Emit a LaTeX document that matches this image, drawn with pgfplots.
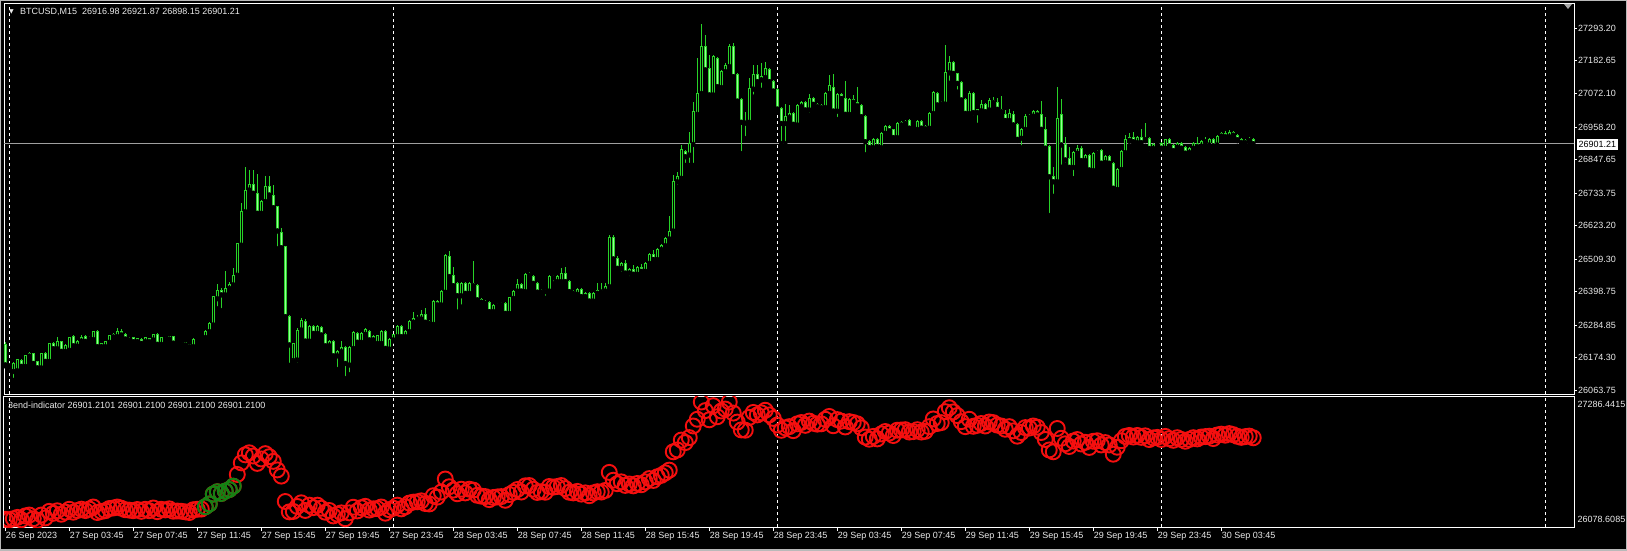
\documentclass[border=0pt]{standalone}
\usepackage{fontspec}
\setmainfont{Liberation Sans}
\newfontfamily\djv{DejaVu Sans}
\usepackage{pgfplots}
\usepackage{pgfplotstable}
\pgfplotsset{compat=1.18}
\definecolor{wick}{RGB}{40,210,40}
\definecolor{bearfill}{RGB}{150,255,150}
\definecolor{lbl}{RGB}{235,235,235}
\definecolor{indred}{RGB}{245,15,15}
\definecolor{indgreen}{RGB}{20,130,20}

\pgfplotstableread{
i o h l c
0 26220 26228 26145 26150
1 26150 26158 26140 26146
2 26128 26161 26099 26155
3 26130 26170 26125 26167
4 26166 26170 26140 26145
5 26145 26185 26140 26181
6 26180 26195 26170 26189
7 26188 26192 26150 26155
8 26160 26165 26135 26140
9 26140 26192 26132 26189
10 26189 26195 26158 26162
11 26162 26226 26158 26223
12 26222 26228 26200 26205
13 26205 26246 26200 26228
14 26228 26232 26192 26196
15 26196 26220 26188 26216
16 26200 26245 26192 26242
17 26245 26250 26212 26215
18 26214 26235 26205 26231
19 26231 26252 26228 26243
20 26245 26250 26228 26230
21 26238 26247 26235 26244
22 26236 26265 26233 26263
23 26265 26268 26210 26212
24 26212 26225 26205 26222
25 26212 26230 26208 26229
26 26227 26252 26225 26249
27 26245 26258 26240 26254
28 26246 26274 26244 26263
29 26263 26272 26250 26252
30 26254 26258 26236 26238
31 26238 26244 26230 26234
32 26242 26246 26226 26229
33 26229 26241 26220 26240
34 26238 26242 26220 26223
35 26229 26245 26226 26242
36 26240 26243 26217 26229
37 26235 26256 26232 26254
38 26254 26257 26218 26220
39 26220 26245 26215 26242
40 26240 26246 26232 26236
41 26238 26248 26234 26246
42 26246 26248 26222 26224
43 26225 26228 26222 26226
44 26226 26229 26222 26224
45 26226 26228 26215 26218
46 26220 26222 26204 26212
47 26212 26240 26210 26238
48 26238 26245 26236 26242
49 26240 26246 26238 26244
50 26243 26268 26240 26265
51 26263 26295 26260 26291
52 26286 26385 26283 26382
53 26375 26424 26342 26404
54 26404 26410 26336 26388
55 26388 26469 26385 26410
56 26410 26430 26405 26424
57 26422 26478 26418 26455
58 26455 26565 26450 26563
59 26557 26699 26550 26670
60 26670 26823 26660 26744
61 26744 26812 26740 26763
62 26763 26812 26728 26733
63 26733 26800 26660 26665
64 26665 26710 26660 26706
65 26705 26793 26700 26755
66 26755 26793 26725 26727
67 26727 26760 26680 26684
68 26687 26690 26546 26605
69 26600 26614 26546 26548
70 26551 26555 26310 26314
71 26314 26318 26150 26218
72 26165 26226 26150 26222
73 26167 26275 26150 26268
74 26269 26310 26265 26302
75 26299 26305 26225 26231
76 26231 26285 26225 26280
77 26280 26286 26250 26257
78 26257 26285 26252 26280
79 26277 26283 26248 26252
80 26254 26258 26210 26215
81 26215 26236 26210 26231
82 26231 26235 26176 26181
83 26181 26200 26136 26197
84 26195 26231 26190 26209
85 26209 26213 26105 26155
86 26150 26215 26118 26209
87 26206 26266 26200 26261
88 26257 26262 26222 26227
89 26227 26262 26222 26257
90 26254 26274 26250 26269
91 26265 26270 26230 26235
92 26235 26250 26230 26246
93 26223 26253 26220 26249
94 26223 26267 26220 26263
95 26263 26268 26200 26206
96 26204 26243 26200 26238
97 26235 26256 26230 26252
98 26246 26285 26242 26280
99 26280 26284 26240 26246
100 26246 26270 26240 26265
101 26263 26303 26258 26299
102 26295 26331 26290 26308
103 26305 26318 26300 26311
104 26306 26337 26300 26320
105 26320 26344 26290 26295
106 26299 26303 26280 26291
107 26288 26372 26283 26367
108 26367 26372 26348 26354
109 26354 26406 26348 26401
110 26397 26527 26392 26521
111 26518 26537 26445 26450
112 26453 26484 26414 26419
113 26427 26432 26331 26385
114 26385 26432 26348 26427
115 26427 26432 26388 26393
116 26393 26433 26388 26427
117 26427 26503 26414 26419
118 26419 26424 26366 26371
119 26371 26376 26358 26363
120 26363 26371 26355 26359
121 26363 26367 26317 26331
122 26331 26356 26326 26351
123 26351 26360 26346 26356
124 26354 26364 26350 26359
125 26359 26365 26320 26325
126 26325 26382 26320 26378
127 26376 26403 26372 26399
128 26401 26442 26397 26424
129 26424 26428 26396 26401
130 26399 26462 26395 26458
131 26458 26466 26448 26461
132 26452 26456 26422 26427
133 26427 26430 26392 26397
134 26397 26408 26393 26404
135 26404 26408 26378 26399
136 26401 26456 26396 26452
137 26452 26456 26427 26446
138 26433 26456 26428 26452
139 26433 26478 26428 26461
140 26461 26484 26428 26433
141 26435 26440 26394 26399
142 26399 26403 26389 26393
143 26390 26412 26386 26407
144 26407 26412 26378 26382
145 26382 26397 26378 26393
146 26393 26398 26362 26367
147 26367 26398 26362 26393
148 26393 26427 26389 26404
149 26404 26427 26397 26401
150 26401 26427 26397 26416
151 26416 26590 26412 26582
152 26582 26590 26500 26510
153 26510 26520 26470 26478
154 26478 26500 26460 26495
155 26495 26505 26455 26462
156 26462 26480 26445 26475
157 26475 26490 26450 26458
158 26458 26485 26452 26480
159 26480 26492 26460 26468
160 26468 26500 26462 26495
161 26495 26530 26490 26525
162 26525 26540 26500 26508
163 26508 26548 26502 26542
164 26542 26560 26535 26555
165 26555 26585 26548 26578
166 26578 26656 26570 26603
167 26605 26795 26600 26772
168 26772 26806 26755 26789
169 26784 26897 26778 26880
170 26874 26880 26829 26857
171 26863 26942 26829 26903
172 26899 27042 26829 27010
173 27001 27191 26999 27072
174 27072 27307 27070 27231
175 27231 27270 27146 27152
176 27155 27203 27061 27067
177 27067 27203 27062 27197
178 27191 27197 27089 27095
179 27092 27153 27087 27148
180 27146 27174 27142 27166
181 27163 27239 27158 27231
182 27231 27242 27124 27129
183 27137 27142 27038 27046
184 27050 27055 26869 26974
185 26978 27010 26920 26971
186 26974 27123 26969 27089
187 27087 27169 27061 27135
188 27137 27169 27107 27112
189 27118 27174 27084 27131
190 27126 27180 27120 27155
191 27152 27157 27107 27112
192 27112 27116 27075 27080
193 27087 27092 27014 27019
194 27021 27026 26903 26970
195 26970 27035 26903 26993
196 26990 27033 26985 27004
197 27004 27009 26962 26967
198 26965 27035 26960 27030
199 27027 27047 27022 27042
200 27042 27047 27011 27016
201 27016 27069 26999 27055
202 27055 27060 27030 27035
203 27035 27040 27022 27027
204 27027 27035 27022 27030
205 27024 27077 27019 27072
206 27072 27135 27068 27098
207 27092 27137 27007 27012
208 27012 27074 26985 27069
209 27069 27074 27050 27055
210 27055 27114 26996 27001
211 27001 27055 26996 27050
212 27050 27067 27037 27042
213 27042 27095 27025 27030
214 27030 27035 26988 26993
215 26993 26998 26865 26908
216 26910 26915 26883 26888
217 26888 26919 26883 26914
218 26914 26919 26886 26891
219 26888 26942 26883 26937
220 26937 26964 26932 26959
221 26959 26964 26940 26945
222 26948 26952 26917 26922
223 26922 26975 26917 26971
224 26965 26978 26960 26973
225 26970 26981 26965 26976
226 26980 26985 26950 26954
227 26954 26962 26946 26958
228 26950 26981 26946 26976
229 26976 26981 26949 26954
230 26952 26965 26946 26961
231 26954 27009 26950 27004
232 27004 27080 27000 27075
233 27072 27078 27028 27033
234 27036 27045 27031 27041
235 27036 27237 27031 27142
236 27142 27199 27108 27178
237 27178 27183 27135 27140
238 27138 27143 27078 27106
239 27108 27113 27045 27050
240 27052 27057 26991 27004
241 27004 27081 26991 27072
242 27072 27077 26991 27007
243 27007 27020 26965 27016
244 27013 27050 27008 27033
245 27033 27038 27005 27010
246 27016 27055 27011 27047
247 27047 27061 27036 27041
248 27041 27055 27013 27018
249 27018 27063 27005 27010
250 26999 27016 26975 26980
251 26980 27018 26965 27004
252 27002 27013 26960 26965
253 26965 26970 26911 26916
254 26920 26955 26889 26950
255 26950 27002 26945 26995
256 26995 27002 26986 26991
257 26995 27016 26990 27010
258 27010 27016 26994 26999
259 27002 27047 26945 26950
260 26950 26993 26880 26886
261 26893 26898 26659 26789
262 26791 26823 26724 26772
263 26772 27093 26767 26987
264 26999 27052 26823 26897
265 26897 26923 26829 26846
266 26852 26891 26816 26821
267 26821 26876 26784 26871
268 26869 26897 26864 26885
269 26885 26893 26839 26844
270 26844 26865 26839 26860
271 26860 26865 26807 26812
272 26810 26874 26803 26869
273 26869 26879 26862 26874
274 26877 26882 26829 26835
275 26837 26862 26832 26857
276 26857 26862 26830 26835
277 26835 26840 26745 26750
278 26746 26819 26738 26814
279 26814 26879 26809 26874
280 26871 26931 26857 26914
281 26912 26936 26908 26923
282 26923 26942 26904 26908
283 26905 26928 26900 26923
284 26923 26950 26900 26905
285 26914 26973 26910 26919
286 26919 26924 26869 26885
287 26885 26905 26880 26900
288 26900 26908 26893 26905
289 26902 26907 26882 26886
290 26886 26918 26882 26914
291 26914 26919 26889 26893
292 26896 26900 26873 26878
293 26889 26907 26885 26902
294 26902 26907 26874 26886
295 26889 26893 26863 26869
296 26871 26890 26866 26886
297 26886 26907 26881 26902
298 26902 26923 26887 26891
299 26893 26913 26889 26908
300 26908 26923 26900 26912
301 26897 26921 26893 26916
302 26916 26920 26889 26894
303 26897 26932 26892 26927
304 26927 26940 26920 26935
305 26935 26945 26920 26925
306 26925 26948 26920 26940
307 26940 26945 26922 26930
308 26930 26935 26910 26915
309 26915 26920 26898 26905
310 26905 26918 26898 26912
311 26912 26925 26900 26917
312 26916.98 26921.87 26898.15 26901.21
}\candles

\begin{document}
\begin{tikzpicture}[x=1pt,y=1pt]
\useasboundingbox (0,0) rectangle (1627,550);
\fill[black] (0,0) rectangle (1627,550);
\draw[gray!55, line width=2pt] (0,0) rectangle (1627,550);

% ---------- price panel ----------
\begin{axis}[
  at={(4pt,156pt)}, anchor=south west, scale only axis,
  width=1570pt, height=390pt,
  xmin=-0.325, xmax=392.2, ymin=26051.3, ymax=27375.7,
  axis line style={white, line width=1pt},
  clip mode=individual,
  xtick=\empty,
  extra x ticks={1,97,193,289,385}, extra x tick labels={},
  extra x tick style={major tick length=0pt, grid=major,
     major grid style={white, line width=0.9pt, dash pattern=on 3pt off 3pt}},
  ytick={27293.20,27182.65,27072.10,26958.20,26847.65,26733.75,26623.20,26509.30,26398.75,26284.85,26174.30,26063.75},
  yticklabels={27293.20,27182.65,27072.10,26958.20,26847.65,26733.75,26623.20,26509.30,26398.75,26284.85,26174.30,26063.75},
  ytick pos=right, tick align=outside, major tick length=3pt,
  ytick style={white, line width=0.8pt},
  yticklabel style={text=lbl, font=\fontsize{9}{10}\selectfont, anchor=west, inner sep=0pt, xshift=1pt},
  /pgf/number format/assume math mode=true,
]
\addplot[color=gray!75, line width=0.9pt] coordinates {(-1,26901.21) (393,26901.21)};
% wicks
\addplot[only marks, mark=none, error bars/.cd, y dir=plus, y explicit, error mark=none,
  error bar style={wick, line width=1pt}]
  table[x=i, y=l, y error expr=\thisrow{h}-\thisrow{l}] {\candles};
% body outlines
\addplot[only marks, mark=none, error bars/.cd, y dir=plus, y explicit, error mark=none,
  error bar style={wick, line width=3pt}]
  table[x=i, y expr={min(\thisrow{o},\thisrow{c})-1.7}, y error expr={abs(\thisrow{c}-\thisrow{o})+3.4}] {\candles};
% bullish interiors (hollow)
\addplot[only marks, mark=none, unbounded coords=discard, error bars/.cd, y dir=plus, y explicit, error mark=none,
  error bar style={black, line width=1pt}]
  table[x=i, y expr={(\thisrow{c}-\thisrow{o}>3.4) ? \thisrow{o}+1.7 : nan}, y error expr={abs(\thisrow{c}-\thisrow{o})-3.4}] {\candles};
% bearish interiors (filled)
\addplot[only marks, mark=none, unbounded coords=discard, error bars/.cd, y dir=plus, y explicit, error mark=none,
  error bar style={bearfill, line width=1pt}]
  table[x=i, y expr={(\thisrow{o}-\thisrow{c}>3.4) ? \thisrow{c}+1.7 : nan}, y error expr={abs(\thisrow{o}-\thisrow{c})-3.4}] {\candles};
\end{axis}

% ---------- indicator panel ----------
\begin{axis}[
  at={(4pt,23pt)}, anchor=south west, scale only axis,
  width=1570pt, height=131pt,
  xmin=-0.325, xmax=392.2, ymin=26078.6085, ymax=27286.4415,
  axis line style={white, line width=1pt},
  clip mode=individual, clip marker paths=true,
  ytick=\empty,
  xtick={0,16,...,304},
  xticklabels={26 Sep 2023,27 Sep 03:45,27 Sep 07:45,27 Sep 11:45,27 Sep 15:45,27 Sep 19:45,27 Sep 23:45,28 Sep 03:45,28 Sep 07:45,28 Sep 11:45,28 Sep 15:45,28 Sep 19:45,28 Sep 23:45,29 Sep 03:45,29 Sep 07:45,29 Sep 11:45,29 Sep 15:45,29 Sep 19:45,29 Sep 23:45,30 Sep 03:45},
  xtick pos=bottom, tick align=outside, major tick length=4pt,
  xtick style={white, line width=0.8pt},
  xticklabel style={text=lbl, font=\fontsize{9}{10}\selectfont, anchor=north west, inner sep=0pt, xshift=0.5pt, yshift=-1.5pt},
  extra x ticks={1,97,193,289,385}, extra x tick labels={},
  extra x tick style={major tick length=0pt, grid=major,
     major grid style={white, line width=0.9pt, dash pattern=on 3pt off 3pt}},
]
\addplot[only marks, mark=o, mark size=7.5pt, mark options={draw=indred, line width=1.9pt}]
  table[x=i, y=c] {\candles};
\addplot[only marks, mark=o, mark size=7.5pt, mark options={draw=indgreen, line width=1.9pt}, restrict x to domain=50:57]
  table[x=i, y=c] {\candles};
\end{axis}

% ---------- texts ----------
\node[anchor=west, inner sep=0pt, text=lbl, font=\djv\fontsize{6}{7}\selectfont] at (9,538) {▼};
\node[anchor=west, inner sep=0pt, text=lbl, font=\fontsize{9}{10}\selectfont] at (20,538) {BTCUSD,M15\ \ 26916.98 26921.87 26898.15 26901.21};
\node[anchor=west, inner sep=0pt, text=lbl, font=\fontsize{9}{10}\selectfont] at (8,145) {3end-indicator 26901.2101 26901.2100 26901.2100 26901.2100};
\node[anchor=west, fill=white, text=black, inner xsep=1.5pt, inner ysep=2pt, font=\fontsize{9}{10}\selectfont] at (1577,405.5) {26901.21};
\node[anchor=west, inner sep=0pt, text=lbl, font=\fontsize{9}{10}\selectfont] at (1577.5,146) {27286.4415};
\node[anchor=west, inner sep=0pt, text=lbl, font=\fontsize{9}{10}\selectfont] at (1577.5,30.5) {26078.6085};
\fill[gray!70] (1564,546) -- (1572,546) -- (1568,541) -- cycle;
\end{tikzpicture}
\end{document}
